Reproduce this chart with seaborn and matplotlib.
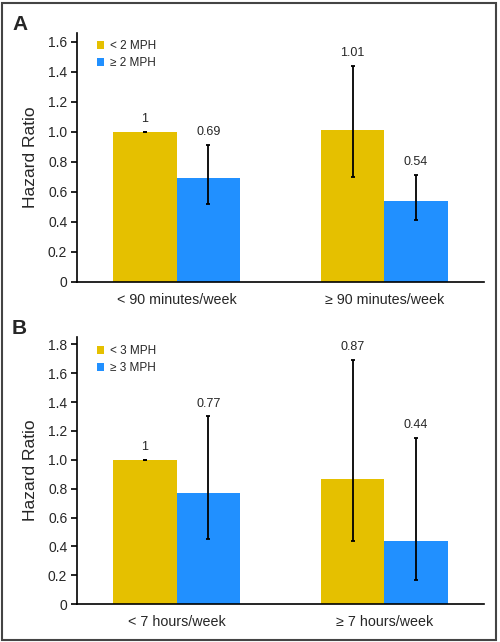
import numpy as np
import pandas as pd
import matplotlib
matplotlib.use('Agg')
import matplotlib.pyplot as plt
import seaborn as sns
from matplotlib.patches import Rectangle
from matplotlib.ticker import FuncFormatter

# Panel A data
categories_a = ["< 90 minutes/week", "\u2265 90 minutes/week"]
speeds_a = ["< 2 MPH", "\u2265 2 MPH"]
hr_a = {"< 2 MPH": [1.0, 1.01], "\u2265 2 MPH": [0.69, 0.54]}
ci_lo_a = {"< 2 MPH": [1.0, 0.70], "\u2265 2 MPH": [0.52, 0.41]}
ci_hi_a = {"< 2 MPH": [1.0, 1.44], "\u2265 2 MPH": [0.91, 0.71]}
text_a = {"< 2 MPH": ["1", "1.01"], "\u2265 2 MPH": ["0.69", "0.54"]}

# Panel B data
categories_b = ["< 7 hours/week", "\u2265 7 hours/week"]
speeds_b = ["< 3 MPH", "\u2265 3 MPH"]
hr_b = {"< 3 MPH": [1.0, 0.87], "\u2265 3 MPH": [0.77, 0.44]}
ci_lo_b = {"< 3 MPH": [1.0, 0.44], "\u2265 3 MPH": [0.45, 0.17]}
ci_hi_b = {"< 3 MPH": [1.0, 1.69], "\u2265 3 MPH": [1.30, 1.15]}
text_b = {"< 3 MPH": ["1", "0.87"], "\u2265 3 MPH": ["0.77", "0.44"]}

colors = ["#E5C000", "#2190FF"]

sns.set_style("white")
plt.rcParams['font.family'] = ['Liberation Sans', 'DejaVu Sans']


def draw_panel(ax, categories, speeds, hr, ci_lo, ci_hi, texts, ymax, yticks):
    rows = []
    for s in speeds:
        for c, v in zip(categories, hr[s]):
            rows.append({"category": c, "speed": s, "hr": v})
    df = pd.DataFrame(rows)
    sns.barplot(data=df, x="category", y="hr", hue="speed", order=categories,
                hue_order=speeds, palette=colors, saturation=1, width=0.61, gap=0,
                errorbar=None, linewidth=0, ax=ax)

    # error bars and value labels, placed from the bar patches
    for cont, s in zip(ax.containers, speeds):
        xs = [b.get_x() + b.get_width() / 2 for b in cont]
        vals = np.array(hr[s])
        lo = vals - np.array(ci_lo[s])
        hi = np.array(ci_hi[s]) - vals
        ax.errorbar(xs, vals, yerr=[lo, hi], fmt='none', ecolor='black',
                    elinewidth=1.3, capsize=1.3, capthick=1.3)
        for x, top, t in zip(xs, ci_hi[s], texts[s]):
            ax.annotate(t, (x, top), xytext=(0, 5), textcoords='offset points',
                        ha='center', va='bottom', fontsize=9)

    ax.set_xlim(-0.48, 1.48)
    ax.set_ylim(0, ymax)
    ax.set_yticks(yticks)
    ax.yaxis.set_major_formatter(FuncFormatter(lambda v, p: "0" if v == 0 else f"{v:.1f}"))
    ax.set_xticks(range(len(categories)))
    ax.set_xticklabels(categories)
    ax.set_xticks([-0.48, 0.5, 1.48], minor=True)
    ax.tick_params(axis='x', which='major', length=0, pad=8, labelsize=10.3)
    ax.tick_params(axis='x', which='minor', length=4, width=1.2, direction='out', color='black')
    ax.tick_params(axis='y', length=4, width=1.2, direction='out', color='black',
                   labelsize=10, pad=3, left=True)
    for sp in ['top', 'right']:
        ax.spines[sp].set_visible(False)
    for sp in ['left', 'bottom']:
        ax.spines[sp].set_color('black')
        ax.spines[sp].set_linewidth(1.2)
    ax.set_xlabel("")
    ax.set_ylabel("Hazard Ratio", fontsize=12.5, labelpad=7)

    handles, labels = ax.get_legend_handles_labels()
    ax.legend(handles, labels, loc='upper left', bbox_to_anchor=(0.048, 0.97),
              frameon=False, fontsize=8.5, handlelength=0.62, handleheight=0.62,
              handletextpad=0.55, labelspacing=0.42, borderpad=0, borderaxespad=0)


fig = plt.figure(figsize=(5, 6.42), dpi=100)
ax_a = fig.add_axes([0.154, 0.561, 0.814, 0.388])
ax_b = fig.add_axes([0.154, 0.059, 0.814, 0.416])

draw_panel(ax_a, categories_a, speeds_a, hr_a, ci_lo_a, ci_hi_a, text_a,
           1.66, np.arange(0, 1.61, 0.2))
draw_panel(ax_b, categories_b, speeds_b, hr_b, ci_lo_b, ci_hi_b, text_b,
           1.85, np.arange(0, 1.81, 0.2))

fig.text(0.024, 0.962, "A", fontsize=15, fontweight='bold', va='center', ha='left')
fig.text(0.024, 0.489, "B", fontsize=15, fontweight='bold', va='center', ha='left')

fig.add_artist(Rectangle((0.003, 0.003), 0.989, 0.993, transform=fig.transFigure,
                         fill=False, lw=1.5, ec='#444444'))

fig.savefig("out.png", dpi=100)
